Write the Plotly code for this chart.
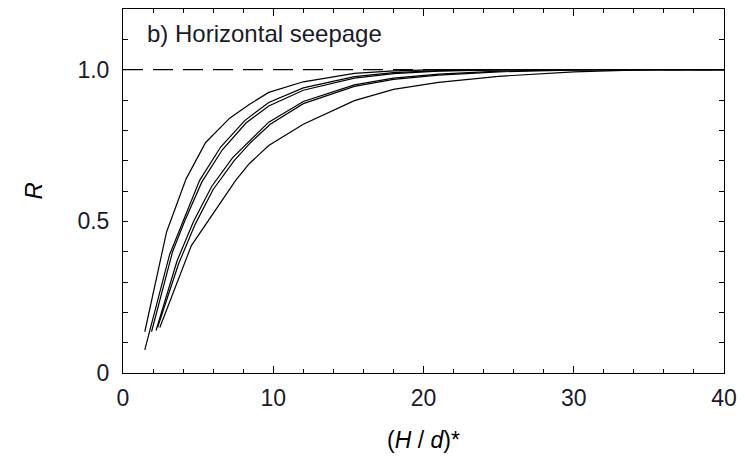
import plotly.graph_objects as go

# Curves: (H/d)* values and R values
c1_x = [1.45, 2.9, 4.2, 5.5, 7.1, 8.4, 9.7, 12, 15.4, 18, 21, 25, 40]
c1_y = [0.136, 0.465, 0.64, 0.76, 0.84, 0.885, 0.925, 0.96, 0.988, 0.996, 1.0, 1.0, 1.0]

c2_x = [1.45, 3.1, 4.0, 5.1, 6.5, 8.1, 9.7, 12, 15.4, 18, 21, 25, 40]
c2_y = [0.076, 0.39, 0.5, 0.635, 0.745, 0.832, 0.892, 0.94, 0.977, 0.99, 0.997, 1.0, 1.0]

c3_x = [1.9, 3.3, 4.1, 5.25, 6.6, 8.2, 9.7, 12, 15.4, 18, 21, 26, 40]
c3_y = [0.136, 0.4, 0.5, 0.63, 0.735, 0.825, 0.88, 0.932, 0.972, 0.987, 0.995, 1.0, 1.0]

c4_x = [2.2, 3.6, 4.7, 5.9, 7.3, 8.4, 9.7, 12, 15.4, 18, 21, 25, 30, 40]
c4_y = [0.14, 0.37, 0.5, 0.615, 0.71, 0.765, 0.827, 0.895, 0.95, 0.972, 0.985, 0.995, 1.0, 1.0]

c5_x = [2.3, 3.7, 4.8, 6.0, 7.4, 8.5, 9.8, 12, 15.4, 18, 21, 25, 31, 40]
c5_y = [0.15, 0.36, 0.49, 0.605, 0.70, 0.76, 0.82, 0.888, 0.945, 0.968, 0.982, 0.993, 1.0, 1.0]

c6_x = [2.45, 4.55, 7.5, 8.4, 9.7, 12, 15.4, 18, 21, 25, 30, 35, 40]
c6_y = [0.15, 0.42, 0.635, 0.69, 0.75, 0.82, 0.898, 0.935, 0.958, 0.978, 0.993, 1.0, 1.0]

ref_x = [0, 40]
ref_y = [1.0, 1.0]

y_tickvals = [0, 0.5, 1.0]
y_ticktext = ["0", "0.5", "1.0"]
x_tickvals = [0, 10, 20, 30, 40]

FONT = "Liberation Sans, Arial, sans-serif"

fig = go.Figure()
fig.add_trace(go.Scatter(x=ref_x, y=ref_y, mode="lines",
                         line=dict(color="black", width=1.2, dash="20px,10px"),
                         showlegend=False, hoverinfo="skip"))
for xs, ys in [(c1_x, c1_y), (c2_x, c2_y), (c3_x, c3_y),
               (c4_x, c4_y), (c5_x, c5_y), (c6_x, c6_y)]:
    fig.add_trace(go.Scatter(x=xs, y=ys, mode="lines",
                             line=dict(color="black", width=1.2),
                             showlegend=False))

axis_common = dict(showline=True, linecolor="black", linewidth=1, mirror="ticks",
                   ticks="inside", tickcolor="black", showgrid=False, zeroline=False,
                   tickfont=dict(family=FONT, size=23, color="#1a1a2a"))

fig.update_xaxes(range=[0, 40], tickvals=x_tickvals, ticklen=7, tickwidth=1,
                 minor=dict(dtick=2, ticks="inside", ticklen=4, tickcolor="black", showgrid=False),
                 ticklabelstandoff=4, **axis_common)
fig.update_yaxes(range=[0, 1.2], tickvals=y_tickvals, ticktext=y_ticktext, ticklen=5, tickwidth=1,
                 minor=dict(dtick=0.1, ticks="inside", ticklen=5, tickcolor="black", showgrid=False),
                 ticklabelstandoff=8, **axis_common)

fig.update_layout(
    width=745, height=462,
    margin=dict(l=123, r=18, t=8, b=89),
    paper_bgcolor="white", plot_bgcolor="white",
    font=dict(family=FONT, color="black"),
    annotations=[
        dict(text="b) Horizontal seepage", xref="paper", yref="paper", x=0.036, y=0.9315,
             xanchor="left", yanchor="middle", showarrow=False,
             font=dict(family=FONT, size=24, color="#1a1a2a")),
        dict(text="(<i>H</i> / <i>d</i>)*", xref="paper", yref="paper", x=0.5, y=-0.184,
             xanchor="center", yanchor="middle", showarrow=False,
             font=dict(family=FONT, size=23, color="black")),
        dict(text="<i>R</i>", xref="paper", yref="paper", x=-0.149, y=0.5,
             xanchor="center", yanchor="middle", showarrow=False, textangle=-90,
             font=dict(family=FONT, size=24, color="black")),
    ],
)

fig.write_html("out.html")
